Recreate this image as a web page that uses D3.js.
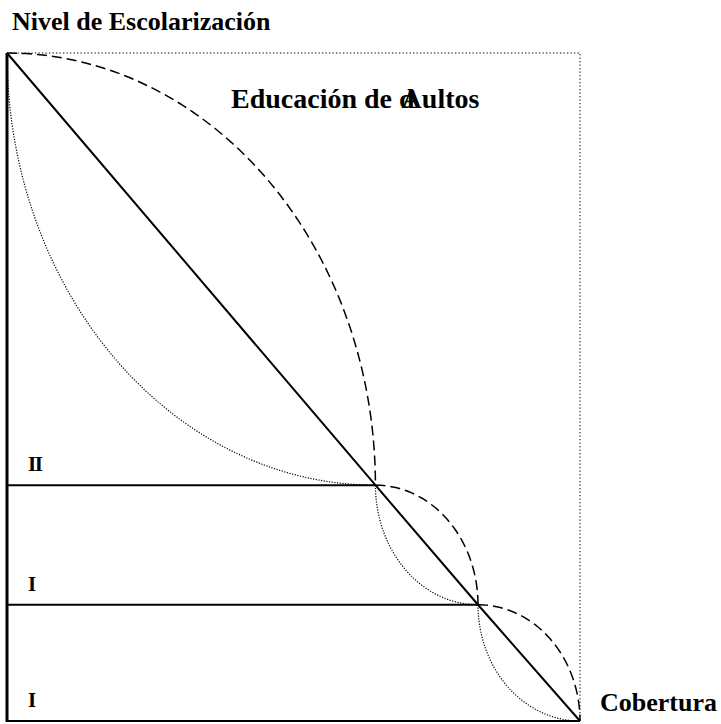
<!DOCTYPE html>
<html>
<head>
<meta charset="utf-8">
<script src="https://cdn.jsdelivr.net/npm/d3@7"></script>
<style>
  body { margin: 0; background: #fff; }
  text { font-family: "Liberation Serif", "Times New Roman", serif; font-weight: bold; fill: #000; }
</style>
</head>
<body>
<div id="chart"></div>
<script>
// Data: corner points of the scheme (cobertura %, nivel %)
const cobertura = [0, 64.3, 82.2, 100];
const nivel = [100, 35.3, 17.4, 0];
const levelLabels = ["II", "I", "I"];   // top to bottom, as shown
const yTitle = "Nivel de Escolarización";
const xTitle = "Cobertura";
const innerTitle = ["Educación de ", "d", "A", "ultos"];

const width = 721, height = 724;
const margin = {top: 53, right: 141, bottom: 3, left: 7};

const svg = d3.select("#chart").append("svg")
    .attr("width", width)
    .attr("height", height);

const x = d3.scaleLinear().domain([0, 100]).range([margin.left, width - margin.right]);
const y = d3.scaleLinear().domain([0, 100]).range([height - margin.bottom, margin.top]);

const pts = cobertura.map((c, i) => [c, nivel[i]]);

// dotted frame, top and right
svg.append("path")
    .attr("d", `M${x(0)},${y(100)}H${x(100)}V${y(0)}`)
    .attr("fill", "none")
    .attr("stroke", "#000")
    .attr("stroke-width", 1)
    .attr("stroke-dasharray", "1.3,2.2");

// quarter-ellipse curves between consecutive points
const line = d3.line().x(d => x(d[0])).y(d => y(d[1]));
const steps = 60;
for (let k = 0; k < pts.length - 1; k++) {
    const [c0, n0] = pts[k], [c1, n1] = pts[k + 1];
    const outer = [], inner = [];
    for (let s = 0; s <= steps; s++) {
        const t = (s / steps) * Math.PI / 2;
        // bulging up-right: horizontal start, vertical end
        outer.push([c0 + (c1 - c0) * Math.sin(t), n1 + (n0 - n1) * Math.cos(t)]);
        // bulging down-left: vertical start, horizontal end
        inner.push([c1 - (c1 - c0) * Math.cos(t), n0 - (n0 - n1) * Math.sin(t)]);
    }
    svg.append("path")
        .attr("d", line(outer))
        .attr("fill", "none")
        .attr("stroke", "#000")
        .attr("stroke-width", 1.5)
        .attr("stroke-dasharray", "10,5");
    svg.append("path")
        .attr("d", line(inner))
        .attr("fill", "none")
        .attr("stroke", "#000")
        .attr("stroke-width", 1.2)
        .attr("stroke-dasharray", "1.2,1.5");
}

// horizontal level lines
svg.selectAll(".level")
    .data(pts.slice(1, -1))
    .enter()
    .append("line")
    .attr("x1", x(0))
    .attr("x2", d => x(d[0]))
    .attr("y1", d => y(d[1]))
    .attr("y2", d => y(d[1]))
    .attr("stroke", "#000")
    .attr("stroke-width", 2);

// diagonal
svg.append("path")
    .attr("d", line(pts))
    .attr("fill", "none")
    .attr("stroke", "#000")
    .attr("stroke-width", 2);

// axes
svg.append("line")
    .attr("x1", x(0)).attr("x2", x(100))
    .attr("y1", y(0)).attr("y2", y(0))
    .attr("stroke", "#000")
    .attr("stroke-width", 2);
svg.append("line")
    .attr("x1", x(0)).attr("x2", x(0))
    .attr("y1", y(0) + 1).attr("y2", y(100))
    .attr("stroke", "#000")
    .attr("stroke-width", 3);

// level labels, placed just above each band's lower edge
const bandTops = nivel.slice(1); // lower edge of each band, top to bottom
svg.selectAll(".lvl")
    .data(levelLabels)
    .enter()
    .append("text")
    .attr("x", x(0) + 21)
    .attr("y", (d, i) => y(bandTops[i]) - 14)
    .style("font-size", "21px")
    .style("letter-spacing", "-1.5px")
    .text(d => d);

// titles
svg.append("text")
    .attr("x", 12)
    .attr("y", 30)
    .style("font-size", "26px")
    .text(yTitle);

svg.append("text")
    .attr("x", 600)
    .attr("y", 711)
    .style("font-size", "26px")
    .text(xTitle);

const t = svg.append("text")
    .attr("x", 231)
    .attr("y", 108)
    .style("font-size", "28px");
t.append("tspan").text(innerTitle[0]);
t.append("tspan").text(innerTitle[1]);
t.append("tspan").attr("dx", -13).text(innerTitle[2]);
t.append("tspan").text(innerTitle[3]);
</script>
</body>
</html>
